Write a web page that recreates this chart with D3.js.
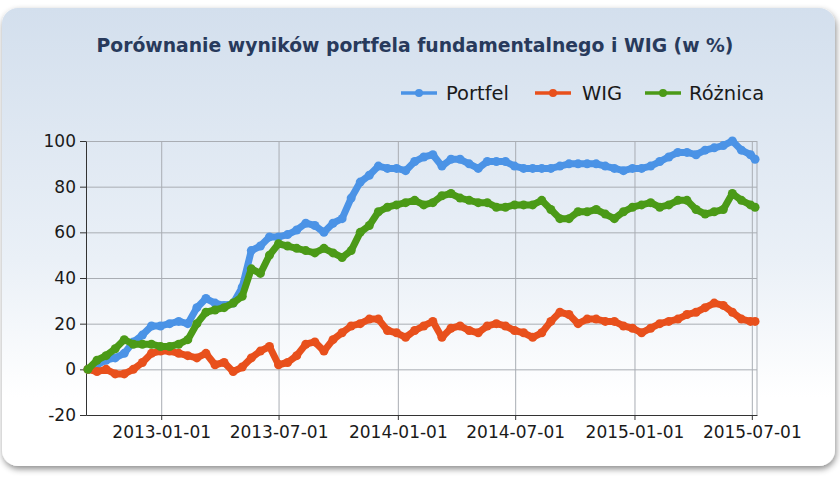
<!DOCTYPE html>
<html>
<head>
<meta charset="utf-8">
<script src="https://cdn.jsdelivr.net/npm/d3@7.9.0/dist/d3.min.js"></script>
<style>
  body { margin: 0; background: #ffffff; }
  text { font-family: "DejaVu Sans", sans-serif; }
</style>
</head>
<body>
<script>
// data, every two weeks
const dates = [
  "2012-09-10","2012-09-24","2012-10-08","2012-10-22","2012-11-05","2012-11-19","2012-12-03","2012-12-17","2012-12-31",
  "2013-01-14","2013-01-28","2013-02-11","2013-02-25","2013-03-11","2013-03-25","2013-04-08","2013-04-22","2013-05-06",
  "2013-05-20","2013-06-03","2013-06-17","2013-07-01","2013-07-15","2013-07-29","2013-08-12","2013-08-26","2013-09-09",
  "2013-09-23","2013-10-07","2013-10-21","2013-11-04","2013-11-18","2013-12-02","2013-12-16","2013-12-30",
  "2014-01-13","2014-01-27","2014-02-10","2014-02-24","2014-03-10","2014-03-24","2014-04-07","2014-04-21","2014-05-05",
  "2014-05-19","2014-06-02","2014-06-16","2014-06-30","2014-07-14","2014-07-28","2014-08-11","2014-08-25","2014-09-08",
  "2014-09-22","2014-10-06","2014-10-20","2014-11-03","2014-11-17","2014-12-01","2014-12-15","2014-12-29",
  "2015-01-12","2015-01-26","2015-02-09","2015-02-23","2015-03-09","2015-03-23","2015-04-06","2015-04-20","2015-05-04",
  "2015-05-18","2015-06-01","2015-06-15","2015-06-29","2015-07-06"
];
const portfel = [
  0, 2, 4, 5, 7, 12, 15, 19, 19,
  20, 21, 20, 27, 31, 29, 28, 29, 36,
  52, 54, 58, 58, 59, 61, 64, 63, 60,
  64, 66, 75, 82, 85, 89, 88, 88,
  87, 91, 93, 94, 89, 92, 92, 90, 88,
  91, 91, 91, 89, 88, 88, 88, 88, 89,
  90, 90, 90, 90, 89, 88, 87, 88,
  88, 89, 91, 93, 95, 95, 94, 96, 97,
  98, 100, 96, 94, 92
];
const wig = [
  0, -1, 0, -2, -2, 0, 3, 7, 8,
  8, 7, 6, 5, 7, 2, 3, -1, 1,
  5, 8, 10, 2, 3, 6, 11, 12, 8,
  13, 16, 19, 20, 22, 22, 17, 16,
  14, 17, 19, 21, 14, 18, 19, 17, 16,
  19, 20, 19, 17, 16, 14, 16, 21, 25,
  24, 20, 22, 22, 21, 21, 19, 18,
  16, 18, 20, 21, 22, 24, 25, 27, 29,
  28, 25, 22, 21, 21
];
const roznica = [
  0, 4, 6, 9, 13, 11, 11, 11, 10,
  10, 11, 13, 20, 25, 26, 27, 29, 32,
  44, 42, 50, 55, 54, 53, 52, 51, 53,
  51, 49, 52, 60, 63, 69, 71, 72,
  73, 74, 72, 73, 76, 77, 75, 74, 73,
  73, 71, 71, 72, 72, 72, 74, 70, 66,
  66, 69, 69, 70, 68, 66, 69, 71,
  72, 73, 71, 72, 74, 74, 70, 68, 69,
  70, 77, 74, 72, 71
];
const seriesNames = ["Portfel", "WIG", "Różnica"];
const seriesColors = ["#4b93e6", "#e8501c", "#4b9a17"];
const yTicks = [-20, 0, 20, 40, 60, 80, 100];
const xTickLabels = ["2013-01-01", "2013-07-01", "2014-01-01", "2014-07-01", "2015-01-01", "2015-07-01"];

const W = 840, H = 480;
const margin = { top: 141, right: 83, bottom: 65, left: 86 };
const parse = d3.timeParse("%Y-%m-%d");

const svg = d3.select("body").append("svg")
    .attr("width", W)
    .attr("height", H);

const defs = svg.append("defs");
const grad = defs.append("linearGradient")
    .attr("id", "bg")
    .attr("x1", 0).attr("y1", 0).attr("x2", 0).attr("y2", 1);
grad.append("stop").attr("offset", "0%").attr("stop-color", "#d3dfed");
grad.append("stop").attr("offset", "55%").attr("stop-color", "#eaf0f7");
grad.append("stop").attr("offset", "85%").attr("stop-color", "#ffffff");

const shadow = defs.append("filter").attr("id", "shadow")
    .attr("x", "-5%").attr("y", "-5%").attr("width", "110%").attr("height", "115%");
shadow.append("feDropShadow")
    .attr("dx", 1).attr("dy", 3).attr("stdDeviation", 3)
    .attr("flood-color", "#000").attr("flood-opacity", 0.45);

// panel
svg.append("rect")
    .attr("x", 2).attr("y", 8)
    .attr("width", 833).attr("height", 458)
    .attr("rx", 16).attr("ry", 16)
    .attr("fill", "url(#bg)")
    .attr("filter", "url(#shadow)");

// scales
const x = d3.scaleTime()
    .domain([parse("2012-09-07"), parse("2015-07-09")])
    .range([margin.left, W - margin.right]);

const y = d3.scaleLinear()
    .domain([-20, 100])
    .range([H - margin.bottom, margin.top]);

const plotW = W - margin.right - margin.left;
const plotH = H - margin.bottom - margin.top;

// grid lines
svg.append("g")
    .attr("transform", `translate(${margin.left},0)`)
    .call(d3.axisLeft(y).tickValues(yTicks).tickSize(-plotW).tickFormat(""))
    .call(g => g.select(".domain").remove())
    .call(g => g.selectAll("line").attr("stroke", "#a9adb3").attr("stroke-width", 1));

svg.append("g")
    .attr("transform", `translate(0,${margin.top})`)
    .call(d3.axisBottom(x).tickValues(xTickLabels.map(parse)).tickSize(plotH).tickFormat(""))
    .call(g => g.select(".domain").remove())
    .call(g => g.selectAll("line").attr("stroke", "#a9adb3").attr("stroke-width", 1));

// right border
svg.append("line")
    .attr("x1", W - margin.right).attr("x2", W - margin.right)
    .attr("y1", margin.top).attr("y2", H - margin.bottom)
    .attr("stroke", "#a9adb3");

// axes
svg.append("g")
    .attr("transform", `translate(${margin.left},0)`)
    .call(d3.axisLeft(y).tickValues(yTicks).tickSize(6).tickPadding(4).tickSizeOuter(0)
        .tickFormat(d => String(d)))
    .call(g => g.select(".domain").attr("stroke", "#333"))
    .call(g => g.selectAll("line").attr("stroke", "#333"))
    .call(g => g.selectAll("text")
        .attr("font-size", 17)
        .attr("fill", "#1a1a1a")
        .attr("font-family", "DejaVu Sans"));

svg.append("g")
    .attr("transform", `translate(0,${H - margin.bottom})`)
    .call(d3.axisBottom(x).tickValues(xTickLabels.map(parse)).tickSize(5).tickPadding(6).tickSizeOuter(0)
        .tickFormat(d3.timeFormat("%Y-%m-%d")))
    .call(g => g.select(".domain").attr("stroke", "#333"))
    .call(g => g.selectAll("line").attr("stroke", "#333"))
    .call(g => g.selectAll("text")
        .attr("font-size", 17)
        .attr("fill", "#1a1a1a")
        .attr("font-family", "DejaVu Sans"));

// series
const allSeries = [portfel, wig, roznica];
const line = d3.line()
    .x(d => x(d.date))
    .y(d => y(d.value));

allSeries.forEach((vals, i) => {
    const pts = dates.map((d, j) => ({ date: parse(d), value: vals[j] }));
    svg.append("path")
        .datum(pts)
        .attr("fill", "none")
        .attr("stroke", seriesColors[i])
        .attr("stroke-width", 7)
        .attr("stroke-linejoin", "round")
        .attr("stroke-linecap", "round")
        .attr("d", line);
    svg.append("g").selectAll("circle")
        .data(pts)
        .enter().append("circle")
        .attr("cx", d => x(d.date))
        .attr("cy", d => y(d.value))
        .attr("r", 4.5)
        .attr("fill", seriesColors[i]);
});

// title
svg.append("text")
    .attr("x", 415)
    .attr("y", 52)
    .attr("text-anchor", "middle")
    .attr("font-size", 18.8)
    .attr("font-weight", "bold")
    .attr("fill", "#283a5c")
    .text("Porównanie wyników portfela fundamentalnego i WIG (w %)");

// legend
const legendX = [401, 535, 645];
const legendTextX = [446, 582, 689];
seriesNames.forEach((name, i) => {
    const g = svg.append("g").attr("transform", `translate(${legendX[i]},93)`);
    g.append("line")
        .attr("x1", 0).attr("x2", 36)
        .attr("stroke", seriesColors[i])
        .attr("stroke-width", 3.5);
    g.append("circle")
        .attr("cx", 18).attr("r", 4)
        .attr("fill", seriesColors[i]);
    svg.append("text")
        .attr("x", legendTextX[i])
        .attr("y", 100)
        .attr("font-size", 19.5)
        .attr("fill", "#1a1a1a")
        .text(name);
});
</script>
</body>
</html>
